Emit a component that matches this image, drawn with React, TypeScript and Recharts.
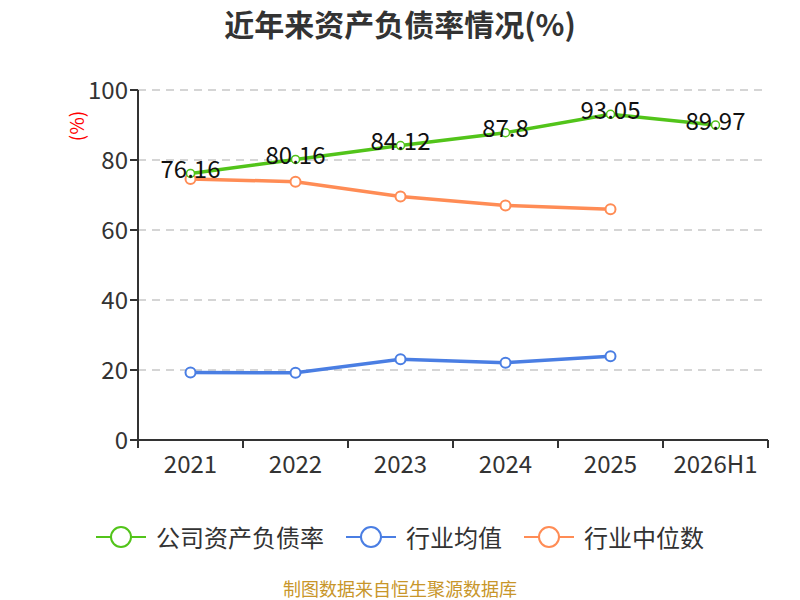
import React from "react";
import { LineChart, Line, XAxis, YAxis, CartesianGrid, LabelList } from "recharts";

const years = ["2021", "2022", "2023", "2024", "2025", "2026H1"];
const companyRatio = [76.16, 80.16, 84.12, 87.8, 93.05, 89.97];
const industryAvg = [19.3, 19.2, 23.1, 22.1, 23.9, null];
const industryMedian = [74.6, 73.8, 69.6, 67.0, 65.9, null];
const yTicks = [0, 20, 40, 60, 80, 100];

const GREEN = "#52c41a";
const BLUE = "#4a7ee3";
const ORANGE = "#ff8c55";
const FONT = "'Noto Sans CJK SC', 'Noto Sans', sans-serif";

const data = years.map((year, i) => ({
  year,
  company: companyRatio[i],
  avg: industryAvg[i],
  median: industryMedian[i],
}));

const legendItems = [
  { name: "公司资产负债率", color: GREEN },
  { name: "行业均值", color: BLUE },
  { name: "行业中位数", color: ORANGE },
];

// plot area is 630px wide, split into one band per year
const BAND = 630 / years.length;

function XTick(props: any) {
  const { x, y, payload, index } = props;
  return (
    <g>
      <line x1={x - BAND / 2} y1={y - 8} x2={x - BAND / 2} y2={y} stroke="#333" strokeWidth={2} />
      {index === years.length - 1 && (
        <line x1={x + BAND / 2} y1={y - 8} x2={x + BAND / 2} y2={y} stroke="#333" strokeWidth={2} />
      )}
      <text x={x} y={y + 18} textAnchor="middle" dominantBaseline="middle" fontSize={24} fill="#333" fontFamily={FONT}>
        {payload.value}
      </text>
    </g>
  );
}

function ValueLabel(props: any) {
  const { x, y, value } = props;
  return (
    <text x={x} y={y - 2} textAnchor="middle" dominantBaseline="middle" fontSize={24} fill="#111" fontFamily={FONT}>
      {value}
    </text>
  );
}

const dot = (color: string) => ({ r: 5, fill: "#fff", stroke: color, strokeWidth: 2 });

export default function App() {
  return (
    <div style={{ position: "relative", width: 800, height: 600, background: "#fff", fontFamily: FONT }}>
      <style>{`body{margin:0}`}</style>
      <div
        style={{
          position: "absolute",
          top: 2,
          width: 800,
          textAlign: "center",
          fontSize: 30,
          lineHeight: "42px",
          fontWeight: "bold",
          color: "#333",
        }}
      >
        近年来资产负债率情况(%)
      </div>
      <div
        style={{
          position: "absolute",
          left: 76,
          top: 126,
          transform: "translate(-50%, -50%) rotate(-90deg)",
          color: "red",
          fontSize: 19,
          lineHeight: "20px",
        }}
      >
        (%)
      </div>
      <LineChart width={800} height={600} data={data} margin={{ top: 90, right: 32, left: 78, bottom: 130 }}>
        <CartesianGrid vertical={false} stroke="#c8c8c8" strokeDasharray="8 6" strokeWidth={1.5} />
        <XAxis
          dataKey="year"
          height={30}
          padding={{ left: BAND / 2, right: BAND / 2 }}
          axisLine={{ stroke: "#333", strokeWidth: 2 }}
          tickLine={false}
          tick={<XTick />}
          interval={0}
        />
        <YAxis
          width={60}
          domain={[0, 100]}
          ticks={yTicks}
          axisLine={{ stroke: "#333", strokeWidth: 2 }}
          tickLine={{ stroke: "#333", strokeWidth: 2 }}
          tickSize={8}
          tick={{ fontSize: 24, fill: "#333", fontFamily: FONT }}
        />
        <Line
          dataKey="median"
          stroke={ORANGE}
          strokeWidth={3.5}
          dot={dot(ORANGE)}
          activeDot={false}
          isAnimationActive={false}
        />
        <Line
          dataKey="avg"
          stroke={BLUE}
          strokeWidth={3.5}
          dot={dot(BLUE)}
          activeDot={false}
          isAnimationActive={false}
        />
        <Line
          dataKey="company"
          stroke={GREEN}
          strokeWidth={3.5}
          dot={{ r: 4, fill: "#fff", stroke: GREEN, strokeWidth: 1.5 }}
          activeDot={false}
          isAnimationActive={false}
        >
          <LabelList dataKey="company" content={<ValueLabel />} />
        </Line>
      </LineChart>
      <div
        style={{
          position: "absolute",
          top: 520,
          width: 800,
          display: "flex",
          justifyContent: "center",
          gap: 22,
          fontSize: 24,
          lineHeight: "34px",
          color: "#333",
        }}
      >
        {legendItems.map((item) => (
          <div key={item.name} style={{ display: "flex", alignItems: "center", gap: 10 }}>
            <svg width={50} height={24}>
              <line x1={0} y1={12} x2={50} y2={12} stroke={item.color} strokeWidth={2} />
              <circle cx={25} cy={12} r={10} fill="#fff" stroke={item.color} strokeWidth={2} />
            </svg>
            <span>{item.name}</span>
          </div>
        ))}
      </div>
      <div
        style={{
          position: "absolute",
          top: 577,
          width: 800,
          textAlign: "center",
          fontSize: 18,
          lineHeight: "22px",
          color: "#c8962a",
        }}
      >
        制图数据来自恒生聚源数据库
      </div>
    </div>
  );
}
